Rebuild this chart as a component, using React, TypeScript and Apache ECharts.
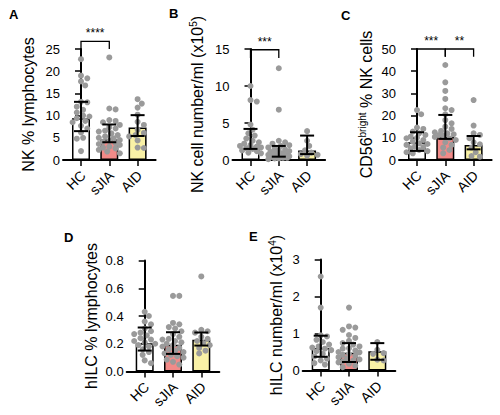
import React, { useEffect, useRef } from "react";
import * as echarts from "echarts";

// Groups shown on every x axis
const groups = ["HC", "sJIA", "AID"];

// A: NK cells as % of lymphocytes
const nkPctHC = [22.7, 19.0, 18.4, 17.7, 16.8, 13.1, 13.0, 12.0, 11.3, 10.7, 10.0, 9.8, 9.4, 8.8, 8.5, 7.7, 7.1, 6.2, 5.0, 4.8, 2.0];
const nkPctSJIA = [23.1, 11.6, 11.4, 9.0, 8.8, 8.5, 7.9, 7.4, 7.1, 6.6, 6.4, 6.0, 5.6, 5.3, 5.0, 4.9, 4.5, 4.3, 4.1, 3.8, 3.6, 3.4, 3.0, 2.8, 2.6, 2.3, 1.9, 1.5];
const nkPctAID = [13.7, 12.7, 11.8, 10.2, 8.6, 7.9, 6.8, 6.1, 5.6, 5.3, 4.4, 2.8, 2.7];
const nkPctMedian = [9.4, 4.6, 7.3];
const nkPctLow = [6.5, 4.0, 5.4];
const nkPctHigh = [13.1, 8.0, 10.1];

// B: NK cell number/ml (x10^5)
const nkNumHC = [10.0, 8.1, 7.9, 4.8, 4.1, 3.6, 3.3, 2.9, 2.6, 2.4, 2.2, 2.0, 1.9, 1.8, 1.7, 1.6, 1.5, 1.3, 1.2, 1.0, 0.9];
const nkNumSJIA = [12.4, 6.8, 2.6, 2.4, 2.2, 2.0, 1.9, 1.7, 1.6, 1.4, 1.3, 1.2, 1.1, 1.0, 0.9, 0.9, 0.8, 0.7, 0.7, 0.6, 0.5, 0.5, 0.4, 0.4, 0.3, 0.3, 0.2, 0.2, 0.1];
const nkNumAID = [3.9, 2.6, 1.9, 1.3, 1.0, 0.8, 0.7, 0.6];
const nkNumMedian = [1.5, 0.7, 1.3];
const nkNumLow = [1.5, 0.45, 0.8];
const nkNumHigh = [4.2, 1.9, 3.3];

// C: CD56bright as % of NK cells
const cd56HC = [22.5, 20.6, 14.6, 14.0, 12.8, 12.0, 11.3, 10.5, 10.0, 9.8, 9.0, 8.3, 7.5, 7.2, 6.8, 6.0, 5.8, 5.3, 4.5, 4.0, 3.5, 3.0];
const cd56SJIA = [42.8, 35.0, 31.1, 27.5, 23.3, 22.5, 20.6, 18.0, 16.5, 15.0, 14.0, 13.1, 12.5, 12.0, 11.6, 11.2, 11.0, 10.4, 9.8, 9.0, 8.0, 6.8, 5.6, 4.5, 3.0];
const cd56AID = [27.0, 15.5, 12.0, 11.3, 9.8, 8.0, 7.1, 5.6, 3.5, 1.8, 1.5];
const cd56Median = [8.0, 10.5, 6.8];
const cd56Low = [4.1, 9.5, 4.8];
const cd56High = [12.5, 20.3, 10.8];

// D: hILC as % of lymphocytes
const hilcPctHC = [0.43, 0.4, 0.36, 0.34, 0.31, 0.29, 0.28, 0.27, 0.26, 0.24, 0.23, 0.22, 0.21, 0.2, 0.19, 0.18, 0.16, 0.14, 0.12, 0.08, 0.06];
const hilcPctSJIA = [0.545, 0.545, 0.35, 0.34, 0.32, 0.31, 0.29, 0.27, 0.25, 0.235, 0.23, 0.22, 0.21, 0.2, 0.19, 0.18, 0.17, 0.16, 0.15, 0.14, 0.13, 0.12, 0.11, 0.1, 0.085, 0.07, 0.05];
const hilcPctAID = [0.685, 0.3, 0.29, 0.28, 0.25, 0.235, 0.22, 0.205, 0.19, 0.17, 0.15, 0.13];
const hilcPctMedian = [0.204, 0.192, 0.228];
const hilcPctLow = [0.151, 0.127, 0.187];
const hilcPctHigh = [0.317, 0.283, 0.281];

// E: hILC number/ml (x10^4)
const hilcNumHC = [2.54, 1.7, 0.95, 0.92, 0.83, 0.77, 0.7, 0.65, 0.62, 0.59, 0.55, 0.52, 0.45, 0.38, 0.32, 0.27, 0.2, 0.16];
const hilcNumSJIA = [1.7, 1.19, 1.16, 1.1, 0.96, 0.88, 0.8, 0.74, 0.7, 0.65, 0.6, 0.59, 0.54, 0.5, 0.49, 0.45, 0.42, 0.4, 0.36, 0.32, 0.3, 0.27, 0.25, 0.22, 0.18, 0.13, 0.09];
const hilcNumAID = [0.77, 0.56, 0.47, 0.45, 0.29, 0.27];
const hilcNumMedian = [0.61, 0.48, 0.52];
const hilcNumLow = [0.37, 0.23, 0.29];
const hilcNumHigh = [0.94, 0.74, 0.74];

// Y axis ranges and tick steps
const yMaxes = [25, 15, 50, 0.8, 3];
const yIntervals = [5, 5, 10, 0.2, 1];

// Significance brackets: [from group, to group, bar height, end height] and their stars
const nkPctBrackets = [[0, 1, 26.7, 25.0]];
const nkPctStars = ["****"];
const nkNumBrackets = [[0, 1, 14.9, 13.8]];
const nkNumStars = ["***"];
const cd56Brackets = [[0, 1, 50, 46.5], [1, 2, 50, 46.5]];
const cd56Stars = ["***", "**"];

const FONT = "Liberation Sans, Arial, Helvetica, sans-serif";
const FILLS = ["#ffffff", "#f28a88", "#f9f1a6"];
const DOT = "#9a9a9a";

const PLOT_W = 92.6;
const PLOT_H = 111;
const X_MIN = -0.636;
const X_MAX = 2.636;
const SPACING_PX = PLOT_W / (X_MAX - X_MIN);

const panels = [
  {
    letter: "A", left: 63, top: 49, lx: 9, ly: 8, nameGap: 27,
    name: "NK % lymphocytes",
    points: [nkPctHC, nkPctSJIA, nkPctAID], median: nkPctMedian, low: nkPctLow, high: nkPctHigh,
    brackets: nkPctBrackets, stars: nkPctStars,
  },
  {
    letter: "B", left: 232.5, top: 49, lx: 169, ly: 7, nameGap: 26,
    name: "{a|NK cell number/ml (x10}{s|5}{a|)}",
    points: [nkNumHC, nkNumSJIA, nkNumAID], median: nkNumMedian, low: nkNumLow, high: nkNumHigh,
    brackets: nkNumBrackets, stars: nkNumStars,
  },
  {
    letter: "C", left: 399, top: 49, lx: 341, ly: 9, nameGap: 24,
    name: "{a|CD56}{s|bright}{a| % NK cells}",
    points: [cd56HC, cd56SJIA, cd56AID], median: cd56Median, low: cd56Low, high: cd56High,
    brackets: cd56Brackets, stars: cd56Stars,
  },
  {
    letter: "D", left: 126.7, top: 260.5, lx: 64, ly: 231, nameGap: 27,
    name: "hILC % lymphocytes",
    points: [hilcPctHC, hilcPctSJIA, hilcPctAID], median: hilcPctMedian, low: hilcPctLow, high: hilcPctHigh,
    brackets: [], stars: [],
  },
  {
    letter: "E", left: 302.7, top: 259.5, lx: 249, ly: 230, nameGap: 17,
    name: "{a|hILC number/ml (x10}{s|4}{a|)}",
    points: [hilcNumHC, hilcNumSJIA, hilcNumAID], median: hilcNumMedian, low: hilcNumLow, high: hilcNumHigh,
    brackets: [], stars: [],
  },
];

// Beeswarm-style horizontal spread so that dots do not sit on top of each other
function swarmOffsets(values: number[], yMax: number): number[] {
  const pxPerUnit = PLOT_H / yMax;
  const order = values.map((_, i) => i).sort((a, b) => values[b] - values[a]);
  const placed: { x: number; y: number }[] = [];
  const out = new Array(values.length).fill(0);
  const minDist = 5.4;
  const cands: number[] = [0];
  for (let k = 1; k <= 5; k++) cands.push(k * 2.1, -k * 2.1);
  for (const i of order) {
    const y = values[i] * pxPerUnit;
    let best = 0;
    let bestD = -1;
    for (const c of cands) {
      let d = Infinity;
      for (const p of placed) d = Math.min(d, Math.hypot(p.x - c, p.y - y));
      if (d >= minDist) {
        best = c;
        break;
      }
      if (d > bestD) {
        bestD = d;
        best = c;
      }
    }
    placed.push({ x: best, y });
    out[i] = best / SPACING_PX;
  }
  return out;
}

function buildOption() {
  const grid: any[] = [];
  const xAxis: any[] = [];
  const yAxis: any[] = [];
  const series: any[] = [];

  panels.forEach((p, i) => {
    grid.push({ left: p.left, top: p.top, width: PLOT_W, height: PLOT_H, containLabel: false });
    xAxis.push({
      type: "value",
      gridIndex: i,
      min: X_MIN,
      max: X_MAX,
      splitLine: { show: false },
      axisLine: { show: true, lineStyle: { color: "#000", width: 2 } },
      axisTick: { show: true, customValues: [0, 1, 2], length: 6, lineStyle: { color: "#000", width: 1.5 } },
      axisLabel: { show: false, formatter: () => "" },
    });
    yAxis.push({
      type: "value",
      gridIndex: i,
      min: 0,
      max: yMaxes[i],
      interval: yIntervals[i],
      splitLine: { show: false },
      axisLine: { show: true, lineStyle: { color: "#000", width: 2 } },
      axisTick: { show: true, length: 6, lineStyle: { color: "#000", width: 1.5 } },
      axisLabel: {
        fontSize: 13,
        color: "#000",
        fontFamily: FONT,
        margin: 3,
        formatter: (v: number) => (i === 3 ? v.toFixed(1) : String(v)),
      },
      name: p.name,
      nameLocation: "middle",
      nameRotate: 90,
      nameGap: p.nameGap,
      nameTextStyle: {
        fontSize: 16,
        color: "#000",
        fontFamily: FONT,
        rich: {
          a: { fontSize: 16, lineHeight: 18, color: "#000", fontFamily: FONT },
          s: { fontSize: 10, lineHeight: 10, verticalAlign: "top", color: "#000", fontFamily: FONT },
        },
      },
    });

    series.push({
      type: "bar",
      xAxisIndex: i,
      yAxisIndex: i,
      barWidth: 18,
      z: 2,
      itemStyle: { borderColor: "#000", borderWidth: 1.5 },
      data: p.median.map((v, k) => ({ value: [k, v], itemStyle: { color: FILLS[k] } })),
    });

    const dots: number[][] = [];
    p.points.forEach((vals, k) => {
      const offs = swarmOffsets(vals, yMaxes[i]);
      vals.forEach((v, j) => dots.push([k + offs[j], v]));
    });
    series.push({
      type: "scatter",
      xAxisIndex: i,
      yAxisIndex: i,
      symbolSize: 6,
      z: 3,
      itemStyle: { color: DOT, opacity: 1 },
      data: dots,
    });

    // Error bars (interquartile range)
    series.push({
      type: "custom",
      xAxisIndex: i,
      yAxisIndex: i,
      z: 4,
      encode: { x: 0, y: [1, 2] },
      data: p.median.map((_, k) => [k, p.low[k], p.high[k]]),
      renderItem: (params: any, api: any) => {
        const x = api.value(0);
        const top = api.coord([x, api.value(2)]);
        const bot = api.coord([x, api.value(1)]);
        const cap = 7;
        const st = { stroke: "#000", lineWidth: 2 };
        return {
          type: "group",
          children: [
            { type: "line", shape: { x1: top[0], y1: top[1], x2: bot[0], y2: bot[1] }, style: st },
            { type: "line", shape: { x1: top[0] - cap, y1: top[1], x2: top[0] + cap, y2: top[1] }, style: st },
            { type: "line", shape: { x1: bot[0] - cap, y1: bot[1], x2: bot[0] + cap, y2: bot[1] }, style: st },
          ],
        };
      },
    });

    if (p.brackets.length) {
      series.push({
        type: "custom",
        xAxisIndex: i,
        yAxisIndex: i,
        z: 5,
        clip: false,
        encode: { x: [0, 1], y: [2, 3] },
        data: p.brackets,
        renderItem: (params: any, api: any) => {
          const a = api.coord([api.value(0), api.value(2)]);
          const b = api.coord([api.value(1), api.value(2)]);
          const drop = api.coord([api.value(0), api.value(3)]);
          const st = { stroke: "#000", lineWidth: 1.3, fill: null };
          return {
            type: "group",
            children: [
              {
                type: "polyline",
                shape: { points: [[a[0], drop[1]], [a[0], a[1]], [b[0], b[1]], [b[0], drop[1]]] },
                style: st,
              },
              {
                type: "text",
                x: (a[0] + b[0]) / 2,
                y: a[1] - 2,
                style: {
                  text: p.stars[params.dataIndex],
                  textAlign: "center",
                  textVerticalAlign: "bottom",
                  font: `12px ${FONT}`,
                  fill: "#000",
                },
              },
            ],
          };
        },
      });
    }
  });

  return {
    animation: false,
    backgroundColor: "#ffffff",
    grid,
    xAxis,
    yAxis,
    series,
  };
}

// Panel letters plus slanted group names, placed through the axes' own scales
function buildGraphic(chart: echarts.ECharts) {
  const items: any[] = [];
  panels.forEach((p, i) => {
    items.push({
      type: "text",
      left: p.lx,
      top: p.ly,
      style: { text: p.letter, font: `bold 13px ${FONT}`, fill: "#000" },
    });
    groups.forEach((g, k) => {
      const pt = chart.convertToPixel({ gridIndex: i }, [k, 0]) as number[];
      items.push({
        type: "text",
        x: pt[0] + 2,
        y: pt[1] + 13,
        rotation: Math.PI / 4,
        style: {
          text: g,
          textAlign: "right",
          textVerticalAlign: "middle",
          font: `14px ${FONT}`,
          fill: "#000",
        },
      });
    });
  });
  return items;
}

export default function App() {
  const ref = useRef<HTMLDivElement>(null);
  useEffect(() => {
    if (!ref.current) return;
    const chart = echarts.init(ref.current, undefined, { renderer: "svg" });
    chart.setOption(buildOption());
    chart.setOption({ graphic: buildGraphic(chart) });
    return () => chart.dispose();
  }, []);
  return (
    <div
      ref={ref}
      style={{ position: "absolute", left: 0, top: 0, width: 500, height: 415, background: "#fff" }}
    />
  );
}
